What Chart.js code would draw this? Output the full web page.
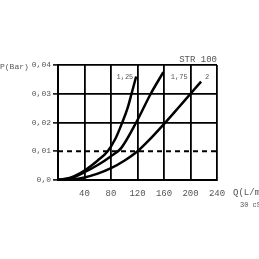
<!DOCTYPE html>
<html><head><meta charset="utf-8">
<script src="https://cdn.jsdelivr.net/npm/chart.js@4/dist/chart.umd.min.js"></script>
<style>html,body{margin:0;padding:0;background:#fff}#wrap{width:259px;height:259px;position:relative}</style>
</head><body><div id="wrap"><canvas id="c" width="259" height="259"></canvas></div>
<script>
const qTicks = [0, 40, 80, 120, 160, 200, 240];
const pTicks = [0, 0.01, 0.02, 0.03, 0.04];
const curve125Q = [0, 20, 40, 60, 75, 87, 97, 105, 111, 118];
const curve125P = [0, 0.0009, 0.0033, 0.0068, 0.01, 0.0145, 0.02, 0.025, 0.03, 0.036];
const curve175Q = [0, 20, 40, 60, 80, 95, 118, 140, 159];
const curve175P = [0, 0.0007, 0.0027, 0.0052, 0.0083, 0.011, 0.02, 0.03, 0.0375];
const curve2Q = [0, 20, 40, 60, 80, 100, 120, 140, 162, 180, 200, 216];
const curve2P = [0, 0.0002, 0.0009, 0.0022, 0.0041, 0.0067, 0.01, 0.0145, 0.02, 0.0247, 0.03, 0.0342];
const refQ = [0, 240];
const refP = [0.01, 0.01];
const curveLabels = ['1,25', '1,75', '2'];
const labelQ = [101, 183, 225];
const labelP = [0.0359, 0.0359, 0.0359];

const pts = (xs, ys) => xs.map((x, i) => ({x, y: ys[i]}));
const FONT = '"Liberation Mono", "DejaVu Sans Mono", monospace';

const textPlugin = {
  id: 'texts',
  afterDatasetsDraw(chart) {
    const {ctx, scales: {x, y}} = chart;
    ctx.save();
    ctx.fillStyle = '#555';
    ctx.textBaseline = 'middle';
    ctx.font = '7px ' + FONT;
    ctx.textAlign = 'center';
    curveLabels.forEach((t, i) => ctx.fillText(t, x.getPixelForValue(labelQ[i]), y.getPixelForValue(labelP[i])));
    ctx.font = '8px ' + FONT;
    ctx.textAlign = 'left';
    ctx.fillText('P(Bar)', 0, 67);
    ctx.font = '9px ' + FONT;
    ctx.fillText('Q(L/m', 233, 193);
    ctx.textAlign = 'right';
    ctx.fillText('STR 100', 217, 60);
    ctx.font = '7px ' + FONT;
    ctx.textAlign = 'left';
    ctx.fillText('30 cS', 240, 205);
    ctx.restore();
  }
};

const curveStyle = {borderColor: '#000', borderWidth: 2.5, pointRadius: 0, fill: false, cubicInterpolationMode: 'monotone', showLine: true};

new Chart(document.getElementById('c'), {
  type: 'scatter',
  data: {
    datasets: [
      {data: pts(refQ, refP), borderColor: '#000', borderWidth: 1.8, borderDash: [5, 4], pointRadius: 0, showLine: true},
      Object.assign({data: pts(curve125Q, curve125P)}, curveStyle),
      Object.assign({data: pts(curve175Q, curve175P)}, curveStyle),
      Object.assign({data: pts(curve2Q, curve2P)}, curveStyle)
    ]
  },
  options: {
    responsive: false,
    animation: false,
    devicePixelRatio: 1,
    layout: {padding: {top: 65, right: 42, left: 0, bottom: 0}},
    plugins: {legend: {display: false}, tooltip: {enabled: false}},
    scales: {
      x: {
        type: 'linear', min: qTicks[0], max: qTicks[qTicks.length - 1],
        afterBuildTicks: s => { s.ticks = qTicks.map(v => ({value: v})); },
        afterFit: s => { s.height = 79; },
        ticks: {color: '#555', font: {family: FONT, size: 9}, padding: 8, maxRotation: 0,
          callback: v => v === 0 ? '' : String(v)},
        grid: {color: '#000', lineWidth: 1.8, drawTicks: false},
        border: {color: '#000', width: 2}
      },
      y: {
        type: 'linear', min: pTicks[0], max: pTicks[pTicks.length - 1],
        afterBuildTicks: s => { s.ticks = pTicks.map(v => ({value: v})); },
        afterFit: s => { s.width = 58; },
        ticks: {color: '#555', font: {family: FONT, size: 8}, padding: 2,
          callback: v => v === 0 ? '0,0' : v.toFixed(2).replace('.', ',')},
        grid: {color: ctx => (ctx.tick && Math.abs(ctx.tick.value - 0.01) < 1e-9) ? 'rgba(0,0,0,0)' : '#000',
          lineWidth: 1.8, tickLength: 5, tickColor: '#000', tickWidth: 1.5},
        border: {color: '#000', width: 2}
      }
    }
  },
  plugins: [textPlugin]
});
</script></body></html>
